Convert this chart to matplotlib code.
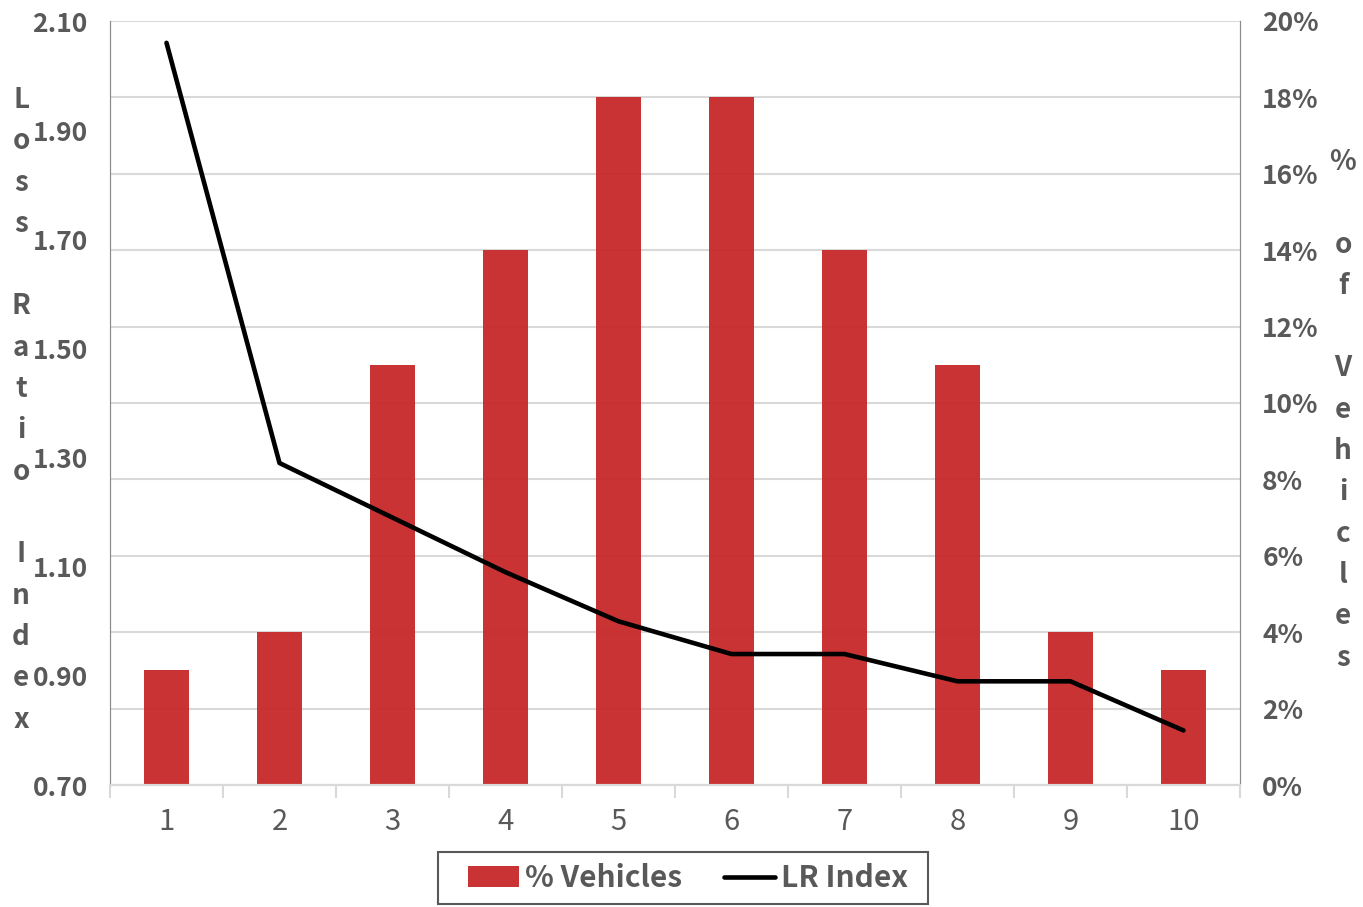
import matplotlib.pyplot as plt
import numpy as np
from matplotlib.patches import Rectangle

plt.rcParams['font.family'] = ['Noto Sans CJK JP', 'DejaVu Sans']

groups = [1, 2, 3, 4, 5, 6, 7, 8, 9, 10]
pct_vehicles = [3, 4, 11, 14, 18, 18, 14, 11, 4, 3]  # %
lr_index = [2.06, 1.29, 1.19, 1.09, 1.00, 0.94, 0.94, 0.89, 0.89, 0.80]

txt = '#595959'
red = '#C82828'

fig = plt.figure(figsize=(13.63, 9.07), dpi=100)
ax = fig.add_axes([110/1363, 1-785/907, 1130/1363, 764/907])
ax2 = ax.twinx()

# bars on the right axis
x = np.array(groups)
ax2.bar(x, pct_vehicles, width=0.4, color=red, alpha=0.95, zorder=2)
ax2.set_ylim(0, 20)
ax2.set_yticks(np.arange(0, 21, 2))
ax2.set_yticklabels([f'{v}%' for v in range(0, 21, 2)])
ax2.grid(axis='y', color='#D9D9D9', linewidth=1.5, zorder=0)
ax2.set_axisbelow(True)

# line on the left axis, kept on top
ax.set_zorder(ax2.get_zorder() + 1)
ax.patch.set_visible(False)
ax.plot(x, lr_index, color='black', linewidth=3.3, solid_capstyle='round')
ax.set_ylim(0.70, 2.10)
ax.set_yticks(np.arange(0.70, 2.11, 0.20))
ax.set_yticklabels([f'{v:.2f}' for v in np.arange(0.70, 2.11, 0.20)])
ax.set_xlim(0.5, 10.5)
ax.set_xticks(x)
ax.set_xticks(np.arange(0.5, 10.6, 1), minor=True)
ax.tick_params(axis='x', which='major', length=0, labelsize=21, colors=txt, pad=16)
ax.tick_params(axis='x', which='minor', length=9, color='#D9D9D9', width=1.5)

for a in (ax, ax2):
    a.spines['top'].set_visible(False)
    a.spines['left'].set_color('#8C8C8C')
    a.spines['right'].set_color('#8C8C8C')
    a.spines['bottom'].set_color('#D9D9D9')
    a.spines['bottom'].set_linewidth(1.5)
ax.tick_params(axis='y', length=0, labelsize=19, colors=txt, pad=16)
ax2.tick_params(axis='y', length=0, labelsize=19, colors=txt, pad=16)
for lab in ax.get_yticklabels() + ax2.get_yticklabels():
    lab.set_fontweight('bold')

# stacked-letter axis titles
step = 41.3
def vertical_label(s, xpix, ypix_top):
    for i, ch in enumerate(s):
        if ch == ' ':
            continue
        fig.text(xpix/1363, 1-(ypix_top + i*step)/907, ch, ha='center', va='center',
                 fontsize=20, fontweight='bold', color=txt)

vertical_label('Loss Ratio Index', 21, 100)
vertical_label('% of Vehicles', 1343, 162)

# legend (frame drawn separately to get the wider box)
h1 = ax2.patches[0]
h2 = ax.lines[0]
leg = fig.legend([h1, h2], ['% Vehicles', 'LR Index'], loc='center',
                 bbox_to_anchor=(688/1363, 1-878/907), ncol=2, frameon=False,
                 prop={'size': 21.5, 'weight': 'bold'},
                 handlelength=1.7, handletextpad=0.2, columnspacing=1.4,
                 borderpad=0.35, borderaxespad=0)
for t in leg.get_texts():
    t.set_color(txt)
fig.patches.append(Rectangle((438/1363, 1-904/907), 490/1363, 52/907,
                             transform=fig.transFigure, fill=False,
                             edgecolor=txt, linewidth=1.5))

fig.savefig('out.png', dpi=100)
